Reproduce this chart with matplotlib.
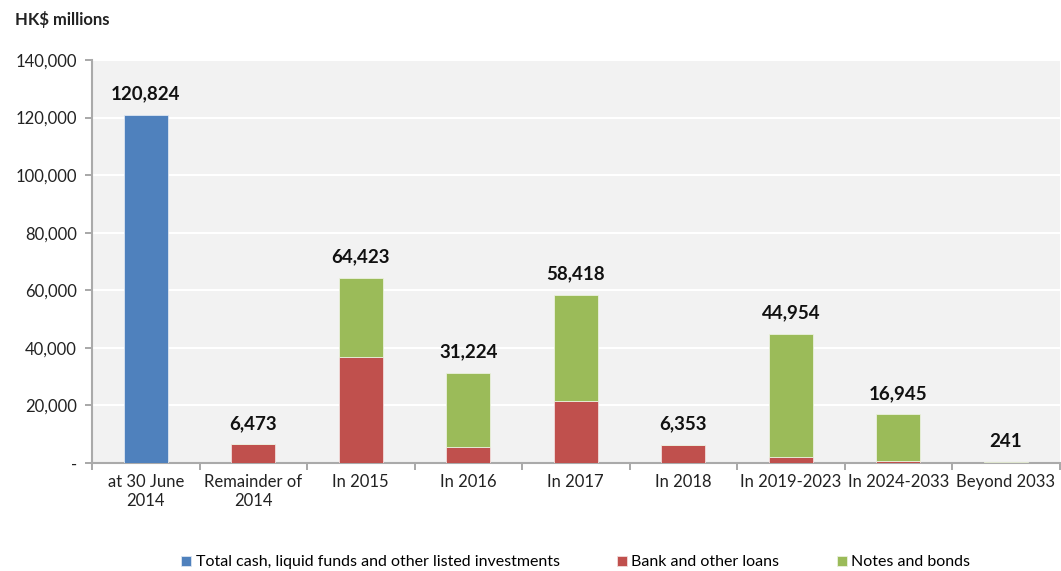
import matplotlib.pyplot as plt
import numpy as np

plt.rcParams['font.family'] = ['Lato', 'DejaVu Sans']

categories = ['at 30 June\n2014', 'Remainder of\n2014', 'In 2015', 'In 2016', 'In 2017',
              'In 2018', 'In 2019-2023', 'In 2024-2033', 'Beyond 2033']
cash = [120824, 0, 0, 0, 0, 0, 0, 0, 0]
bank_loans = [0, 6473, 36800, 5700, 21600, 6353, 2000, 800, 150]
notes_bonds = [0, 0, 27623, 25524, 36818, 0, 42954, 16145, 91]
totals = [120824, 6473, 64423, 31224, 58418, 6353, 44954, 16945, 241]

c_blue = '#4f81bd'
c_red = '#c0504d'
c_green = '#9bbb59'

fig = plt.figure(figsize=(10.61, 5.71), dpi=100)
ax = fig.add_axes([0.0867, 0.189, 0.912, 0.706])
ax.set_facecolor('#f2f2f2')

x = np.arange(len(categories))
w = 0.41
ax.bar(x, cash, w, color=c_blue, edgecolor='#dce6f2', linewidth=0.6,
       label='Total cash, liquid funds and other listed investments', zorder=3)
ax.bar(x, bank_loans, w, color=c_red, edgecolor='#f2dcdb', linewidth=0.6,
       label='Bank and other loans', zorder=3)
ax.bar(x, notes_bonds, w, bottom=bank_loans, color=c_green, edgecolor='#ebf1de', linewidth=0.6,
       label='Notes and bonds', zorder=3)

for xi, t in zip(x, totals):
    ax.annotate(f'{t:,}', (xi, t), xytext=(0, 9), textcoords='offset points',
                ha='center', va='bottom', fontsize=13.5, fontweight='bold', color='#111111')

ax.set_ylim(0, 140000)
ax.set_xlim(-0.5, len(categories) - 0.5)
yt = np.arange(0, 140001, 20000)
ax.set_yticks(yt)
ax.set_yticklabels(['-'] + [f'{v:,}' for v in yt[1:]])
ax.yaxis.grid(True, color='white', linewidth=1.5, zorder=0)
ax.set_axisbelow(True)

# category labels centred, tick marks on the boundaries
ax.set_xticks(x)
ax.set_xticklabels(categories, fontsize=12, color='#222222')
ax.tick_params(axis='x', length=0, pad=8)
ax.set_xticks(np.arange(-0.5, len(categories), 1), minor=True)
ax.tick_params(axis='x', which='minor', length=5, color='#999999', width=1.2)
ax.tick_params(axis='y', length=5, color='#999999', width=1.2, labelsize=12, labelcolor='#222222', pad=6)

for s in ['top', 'right']:
    ax.spines[s].set_visible(False)
for s in ['left', 'bottom']:
    ax.spines[s].set_color('#aaaaaa')
    ax.spines[s].set_linewidth(1.5)

fig.text(0.014, 0.965, 'HK$ millions', fontsize=12, fontweight='bold', color='#222222',
         ha='left', va='center')

ax.legend(loc='center', bbox_to_anchor=(0.5, -0.246), ncol=3, frameon=False,
          fontsize=11.5, handlelength=0.6, handleheight=0.6, handletextpad=0.3,
          columnspacing=3.6)

fig.savefig('out.png', dpi=100)
